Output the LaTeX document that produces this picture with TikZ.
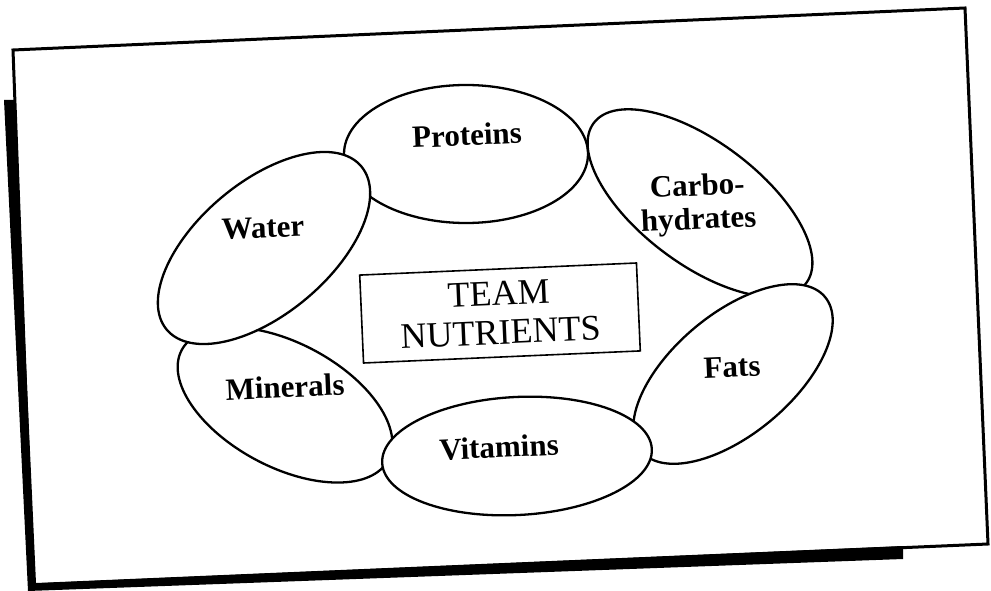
\documentclass[tikz,border=0pt]{standalone}
\usepackage{fontspec}
\setmainfont{Liberation Serif}
\usetikzlibrary{shapes.geometric}
\begin{document}
\begin{tikzpicture}[x=1pt,y=-1pt,
  oval/.style={draw=black, fill=white, ellipse, line width=2.3pt, inner sep=0pt, outer sep=0pt},
  lab/.style={font=\bfseries\fontsize{31}{33.5}\selectfont, align=center, rotate=2.5, inner sep=0pt},
  titlebox/.style={draw=black, line width=1.6pt, rotate=2.5, minimum width=277pt, minimum height=88pt,
     align=center, inner sep=0pt, font=\fontsize{36}{39}\selectfont},
  shadow/.style={fill=black},
  frame/.style={draw=black, line width=3pt, line join=miter}]
\useasboundingbox (0,0) rectangle (991,591);
% frame with dark scan shadow
\fill[shadow] (4,100) -- (14,100) -- (36,583) -- (903,546) -- (903,559) -- (28,591) -- cycle;
\draw[frame] (13,50) -- (965,8) -- (988,544) -- (33,585) -- cycle;
% ellipses (drawing order gives the overlaps)
\node[oval, minimum width=244pt, minimum height=138pt] (proteins) at (466,154) {};
\node[oval, minimum width=266pt, minimum height=122pt, rotate=-37] (carbo) at (700,203) {};
\node[oval, minimum width=240pt, minimum height=120pt, rotate=40] (fats) at (733,374) {};
\node[oval, minimum width=234pt, minimum height=124pt, rotate=-28] (minerals) at (285,405) {};
\node[oval, minimum width=270pt, minimum height=118pt, rotate=3] (vitamins) at (517,456) {};
\node[oval, minimum width=254pt, minimum height=132pt, rotate=40] (water) at (264,248) {};
% labels
\node[lab] (tproteins) at (467,135) {Proteins};
\node[lab] (tcarbo) at (698,205) {Carbo-\\hydrates};
\node[lab] (tfats) at (732,367) {Fats};
\node[lab] (tvitamins) at (499,447) {Vitamins};
\node[lab] (tminerals) at (285,387) {Minerals};
\node[lab] (twater) at (263,228) {Water};
% centre box
\node[titlebox] (team) at (500,313) {TEAM\\NUTRIENTS};
\end{tikzpicture}
\end{document}
